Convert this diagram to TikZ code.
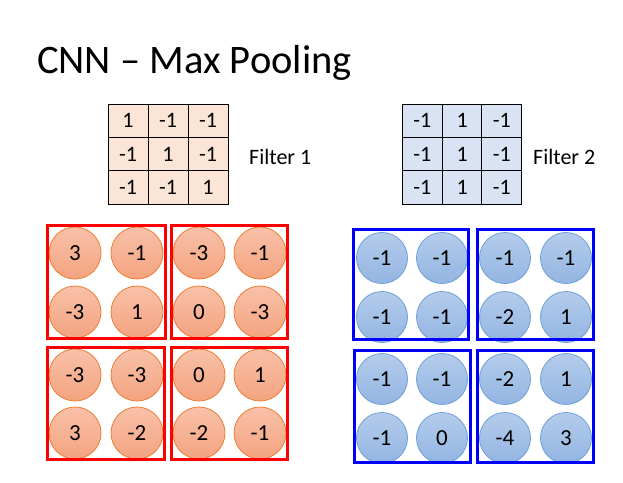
\documentclass[tikz,border=0pt]{standalone}
\usepackage{fontspec}
\setmainfont{Carlito}
\definecolor{fOne}{HTML}{FBE5D6}
\definecolor{fTwo}{HTML}{DAE3F3}
\definecolor{rTop}{HTML}{F8C1A9}
\definecolor{rBot}{HTML}{F4A37F}
\definecolor{rEdge}{HTML}{ED7D31}
\definecolor{bTop}{HTML}{B4CCEB}
\definecolor{bBot}{HTML}{93B5E2}
\definecolor{bEdge}{HTML}{6FA0D8}
\tikzset{
  cellA/.style={draw=black, line width=1pt, fill=fOne, minimum width=40pt, minimum height=33.4pt, inner sep=0pt, font=\fontsize{22}{26}\selectfont},
  cellB/.style={draw=black, line width=1pt, fill=fTwo, minimum width=39.7pt, minimum height=33.4pt, inner sep=0pt, font=\fontsize{22}{26}\selectfont},
  rcirc/.style={circle, draw=rEdge, line width=0.8pt, top color=rTop, bottom color=rBot, minimum size=52pt, inner sep=0pt, font=\fontsize{23}{27}\selectfont},
  bcirc/.style={circle, draw=bEdge, line width=0.8pt, top color=bTop, bottom color=bBot, minimum size=51pt, inner sep=0pt, font=\fontsize{23}{27}\selectfont},
  rbox/.style={draw=red, line width=3pt},
  bbox/.style={draw=blue, line width=3pt},
  lbl/.style={anchor=west, inner sep=0pt, font=\fontsize{22}{26}\selectfont}
}
\begin{document}
\begin{tikzpicture}[x=1pt,y=-1pt]
\useasboundingbox (0,0) rectangle (623,482);
\node[anchor=base west, inner sep=0pt, font=\fontsize{40.5}{48}\selectfont] (title) at (37,73) {CNN -- Max Pooling};
% Filter 1
\foreach \v [count=\i from 0] in {1,-1,-1,-1,1,-1,-1,-1,1}{
  \pgfmathtruncatemacro{\c}{mod(\i,3)}
  \pgfmathtruncatemacro{\r}{int(\i/3)}
  \node[cellA] (fa\i) at (128+40*\c, 120.8+33.4*\r) {\v};
}
\node[lbl] (lab1) at (249,157) {Filter 1};
% Filter 2
\foreach \v [count=\i from 0] in {-1,1,-1,-1,1,-1,-1,1,-1}{
  \pgfmathtruncatemacro{\c}{mod(\i,3)}
  \pgfmathtruncatemacro{\r}{int(\i/3)}
  \node[cellB] (fb\i) at (422.4+39.7*\c, 120.8+33.4*\r) {\v};
}
\node[lbl] (lab2) at (533,157) {Filter 2};
% red circles
\foreach \v [count=\i from 0] in {3,-1,-3,-1, -3,1,0,-3, -3,-3,0,1, 3,-2,-2,-1}{
  \pgfmathtruncatemacro{\c}{mod(\i,4)}
  \pgfmathtruncatemacro{\r}{int(\i/4)}
  \pgfmathsetmacro{\xx}{{75,137,199,260}[\c]}
  \pgfmathsetmacro{\yy}{{253,312,375,433}[\r]}
  \node[rcirc] (rc\i) at (\xx,\yy) {\v};
}
% blue circles
\foreach \v [count=\i from 0] in {-1,-1,-1,-1, -1,-1,-2,1, -1,-1,-2,1, -1,0,-4,3}{
  \pgfmathtruncatemacro{\c}{mod(\i,4)}
  \pgfmathtruncatemacro{\r}{int(\i/4)}
  \pgfmathsetmacro{\xx}{{382,442,505,566}[\c]}
  \pgfmathsetmacro{\yy}{{258,317,379,438}[\r]}
  \node[bcirc] (bc\i) at (\xx,\yy) {\v};
}
% boxes
\draw[rbox] (47.5,225.5) rectangle (165,338);
\draw[rbox] (171.5,225.5) rectangle (287,338);
\draw[rbox] (47.5,347.5) rectangle (164.5,459.5);
\draw[rbox] (171.5,347.5) rectangle (287.5,459.5);
\draw[bbox] (353,229.5) rectangle (468,339.5);
\draw[bbox] (477.5,229.5) rectangle (593.5,339.5);
\draw[bbox] (354,350) rectangle (470,462);
\draw[bbox] (477.5,350) rectangle (593.5,462);
\end{tikzpicture}
\end{document}
